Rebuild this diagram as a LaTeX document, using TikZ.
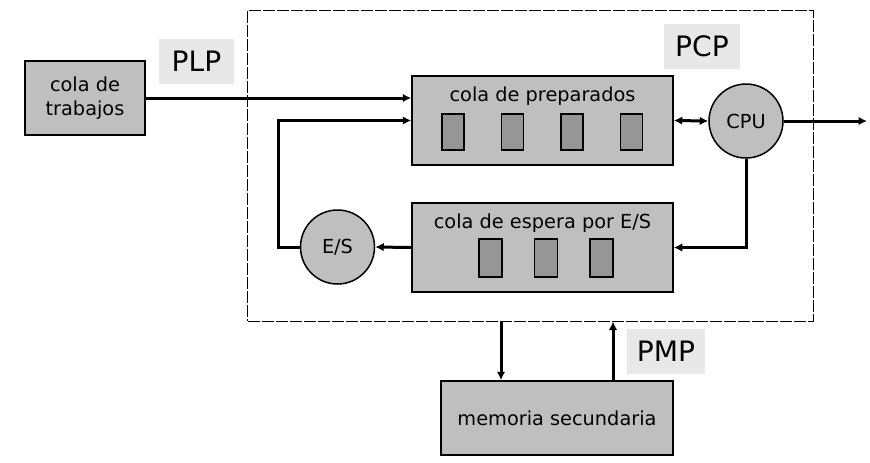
\documentclass[tikz,border=0pt]{standalone}
\usepackage{fontspec}
\setmainfont{DejaVu Sans}
\usetikzlibrary{arrows.meta,calc}
\tikzset{
	box/.style={draw, line width=0.3mm, fill=black!25, inner sep=0pt, align=center, font=\fontsize{11}{13.5}\selectfont},
	slot/.style={draw, line width=0.25mm, fill=black!41, minimum width=4.4mm, minimum height=7.2mm, inner sep=0pt},
	proc/.style={circle, draw, line width=0.3mm, fill=black!25, minimum size=14.8mm, inner sep=0pt, font=\fontsize{11}{13.5}\selectfont},
	tag/.style={fill=black!9, minimum height=9mm, inner sep=0pt, font=\fontsize{16}{19}\selectfont},
	flow/.style={line width=0.6mm, -{Latex[length=1.7mm,width=1.7mm]}},
	zone/.style={draw, line width=0.2mm, dash pattern=on 2.4mm off 0.4mm}
}
\begin{document}
\begin{tikzpicture}[x=0.2mm, y=-0.2mm]
		%%%%% START %%%%%
		\useasboundingbox (0, 0) rectangle (870, 462);
		
		\node[zone, minimum width=113mm, minimum height=62.2mm] (zone) at (530.5, 165.5) {};
		
		\node[box, minimum width=24mm, minimum height=14.8mm] (trab) at (85, 98) {cola de\\trabajos};
		\node[tag, minimum width=15mm] (plp) at (196.5, 61.5) {PLP};
		\node[tag, minimum width=15.2mm] (pcp) at (702, 46.5) {PCP};
		\node[tag, minimum width=15.6mm] (pmp) at (666, 351.5) {PMP};
		
		% cola de preparados
		\node[box, minimum width=52.2mm, minimum height=17.8mm] (prep) at (542.5, 120.5) {};
		\node[font=\fontsize{11}{13.5}\selectfont] (preptit) at (542.5, 96) {cola de preparados};
		\foreach \x [count=\i] in {453, 512.5, 572, 631.5}
			\node[slot] (p\i) at (\x, 132) {};
		
		% cola de espera
		\node[box, minimum width=52.2mm, minimum height=17.8mm] (esp) at (542.5, 247.5) {};
		\node[font=\fontsize{11}{13.5}\selectfont] (esptit) at (542.5, 223) {cola de espera por E/S};
		\foreach \x [count=\i] in {490.5, 546, 601.5}
			\node[slot, minimum width=4.6mm, minimum height=7.6mm] (e\i) at (\x, 258) {};
		
		\node[proc] (cpu) at (746, 121) {CPU};
		\node[proc] (es) at (337.5, 247) {E/S};
		
		\node[box, minimum width=46.4mm, minimum height=14.8mm] (mem) at (557, 418) {memoria secundaria};
		
		\coordinate (out) at (867, 121);
		\coordinate (back) at (278, 247);
		\coordinate (down) at (501, 0);
		\coordinate (up) at (613, 0);
		
		\draw[flow] (trab.east) -- (trab.east -| prep.west);
		\draw[flow, {Latex[length=1.7mm,width=1.7mm]}-{Latex[length=1.7mm,width=1.7mm]}] (prep.east) -- (cpu.west);
		\draw[flow] (cpu.east) -- (out);
		\draw[flow] (cpu.south) |- (esp.east);
		\draw[flow] (esp.west) -- (es.east);
		\draw[flow] (es.west) -- (back) |- (prep.west);
		
		\draw[flow] (zone.south -| down) -- (mem.north -| down);
		\draw[flow] (mem.north -| up) -- (zone.south -| up);
		
		%%%%% END %%%%%
\end{tikzpicture}
\end{document}
